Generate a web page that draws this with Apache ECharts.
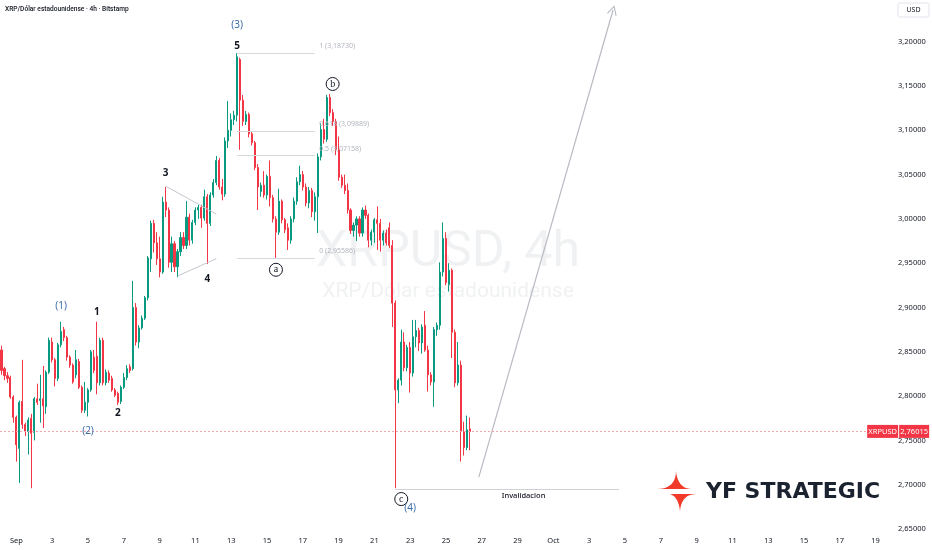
<!DOCTYPE html>
<html><head><meta charset="utf-8">
<script src="https://cdn.jsdelivr.net/npm/echarts@6/dist/echarts.min.js"></script>
<style>html,body{margin:0;padding:0;background:#fff}#c{width:932px;height:550px}</style>
</head><body><div id="c"></div>
<script>
// ---- data (4h candles, XRP/USD, Bitstamp) ----
const opens = [2.852,2.831,2.823,2.821,2.799,2.776,2.741,2.794,2.768,2.760,2.775,2.759,2.797,2.795,2.797,2.788,2.827,2.861,2.841,2.820,2.858,2.875,2.866,2.844,2.835,2.824,2.839,2.810,2.784,2.793,2.807,2.844,2.845,2.815,2.863,2.815,2.826,2.820,2.807,2.803,2.794,2.810,2.821,2.833,2.831,2.900,2.861,2.877,2.888,2.911,
2.955,2.995,2.973,2.955,2.940,3.019,3.010,2.951,2.972,2.946,2.963,2.979,2.970,3.002,2.976,2.996,3.010,3.013,3.001,3.025,2.995,3.027,3.041,3.066,3.036,3.028,3.088,3.100,3.112,3.117,
3.180,3.134,3.110,3.118,3.096,3.086,3.058,3.031,3.038,3.027,3.048,3.024,3.000,2.985,3.020,2.999,2.990,2.976,3.000,3.020,3.042,3.050,3.036,3.018,3.032,3.008,3.025,3.070,3.101,3.090,
3.137,3.120,3.110,3.078,3.047,3.038,3.032,3.010,2.987,2.993,3.000,2.984,3.010,3.004,2.976,2.985,2.999,2.995,2.976,2.984,2.990,2.970,2.905,2.807,2.818,2.861,2.832,2.855,2.826,2.867,
2.874,2.860,2.880,2.852,2.824,2.816,2.875,2.880,2.940,2.978,2.926,2.942,2.872,2.815,2.835,2.760,2.742,2.763];
const closes = [2.829,2.823,2.820,2.799,2.776,2.745,2.793,2.768,2.760,2.773,2.758,2.797,2.793,2.797,2.789,2.827,2.863,2.841,2.820,2.858,2.873,2.866,2.844,2.835,2.816,2.841,2.810,2.784,2.793,2.807,2.850,2.829,2.815,2.863,2.815,2.827,2.818,2.807,2.801,2.793,2.810,2.821,2.831,2.829,2.900,2.861,2.877,2.888,2.911,2.956,
2.995,2.973,2.955,2.940,3.019,3.010,2.951,2.972,2.946,2.963,2.979,2.970,3.002,2.976,2.996,3.010,3.013,3.001,3.025,2.995,3.027,3.041,3.066,3.036,3.028,3.088,3.100,3.112,3.117,3.183,
3.134,3.110,3.118,3.096,3.086,3.058,3.036,3.038,3.027,3.048,3.024,3.000,2.985,3.020,2.999,2.988,2.976,3.000,3.020,3.042,3.050,3.036,3.018,3.032,3.008,3.025,3.070,3.101,3.090,3.137,
3.120,3.110,3.078,3.047,3.038,3.032,3.010,2.987,2.993,3.000,2.984,3.010,3.004,2.976,2.985,2.999,2.995,2.976,2.984,2.973,2.970,2.905,2.807,2.818,2.861,2.832,2.855,2.826,2.867,2.874,
2.860,2.878,2.852,2.824,2.816,2.875,2.880,2.940,2.978,2.928,2.942,2.872,2.815,2.835,2.760,2.742,2.762,2.76015];
const lows = [2.824,2.818,2.815,2.797,2.770,2.726,2.702,2.763,2.755,2.734,2.696,2.750,2.790,2.770,2.764,2.780,2.825,2.838,2.811,2.817,2.855,2.862,2.840,2.832,2.814,2.820,2.808,2.781,2.781,2.777,2.805,2.826,2.802,2.812,2.812,2.812,2.815,2.805,2.799,2.790,2.791,2.808,2.818,2.826,2.829,2.857,2.854,2.875,2.886,2.908,
2.940,2.962,2.948,2.934,2.938,3.002,2.945,2.940,2.940,2.934,2.958,2.966,2.966,2.970,2.972,2.993,3.000,2.990,2.998,2.949,2.992,3.024,3.038,3.033,3.021,3.025,3.080,3.093,3.106,3.110,
3.078,3.105,3.106,3.092,3.083,3.055,3.010,3.025,3.024,3.022,3.014,2.996,2.956,2.982,2.995,2.984,2.965,2.972,2.996,3.016,3.038,3.032,3.014,3.012,3.002,2.998,2.984,3.066,3.085,3.087,
3.116,3.105,3.072,3.043,3.035,3.028,3.006,2.983,2.980,2.975,2.980,2.980,3.000,2.968,2.970,2.973,2.965,2.963,2.970,2.970,2.967,2.878,2.696,2.792,2.812,2.828,2.828,2.804,2.822,2.855,
2.851,2.848,2.850,2.805,2.812,2.788,2.868,2.875,2.935,2.925,2.918,2.843,2.810,2.812,2.726,2.733,2.739,2.739];
const highs = [2.857,2.833,2.827,2.823,2.801,2.778,2.795,2.841,2.770,2.776,2.780,2.799,2.814,2.824,2.834,2.829,2.866,2.866,2.843,2.860,2.884,2.878,2.868,2.846,2.837,2.852,2.842,2.812,2.816,2.809,2.852,2.852,2.884,2.866,2.866,2.830,2.829,2.823,2.809,2.805,2.812,2.826,2.835,2.836,2.930,2.905,2.880,2.891,2.913,2.958,
2.998,2.999,2.985,2.980,3.025,3.036,3.013,2.980,2.975,2.966,2.985,2.985,3.020,3.006,2.999,3.013,3.016,3.016,3.033,3.028,3.030,3.045,3.071,3.069,3.045,3.092,3.133,3.119,3.122,3.187,
3.182,3.140,3.122,3.120,3.099,3.088,3.062,3.041,3.054,3.050,3.066,3.027,3.003,3.034,3.022,3.001,2.995,3.003,3.024,3.047,3.060,3.054,3.040,3.036,3.035,3.030,3.074,3.108,3.113,3.140,
3.141,3.124,3.113,3.093,3.050,3.050,3.040,3.012,2.996,3.003,3.003,3.013,3.015,3.006,2.988,3.001,3.014,3.000,2.987,2.988,2.996,2.976,2.908,2.820,2.875,2.872,2.858,2.861,2.886,2.886,
2.877,2.881,2.896,2.857,2.827,2.878,2.883,2.951,2.996,2.985,2.950,2.944,2.875,2.861,2.840,2.771,2.778,2.776];
const yTicks = [2.65, 3.20, 0.05];               // min label, max label, step
const fibLevels = [1, 0.618, 0.5, 0];
const fibPrices = [3.18730, 3.09889, 3.07158, 2.95586];
const waveText  = ['(3)', '5', '3', '4', '(1)', '1', '2', '(2)', '(4)'];
const waveIdx   = [79, 79, 55, 69, 20, 32, 39, 29, 137];
const wavePrice = [3.2189, 3.1952, 3.0518, 2.9322, 2.9017, 2.8949, 2.7809, 2.7605, 2.6736];
const waveBlue  = [true, false, false, false, true, false, false, true, true];
const circText  = ['a', 'b', 'c'];
const circIdx   = [92, 111, 134];
const circPrice = [2.9426, 3.1523, 2.6838];
const invalidPrice = 2.6951;
const arrowFrom = [160, 2.7086], arrowTo = [205, 3.2358];
const triUpper = [[55, 3.037], [72, 3.0055]];
const triLower = [[59, 2.9355], [72, 2.9551]];

// time categories (4h)
const categories = [];
const t0 = Date.UTC(2025, 7, 31, 4);
for (let k = 0; k < 300; k++) categories.push(new Date(t0 + k * 4 * 3600e3).toISOString().slice(0, 16));
const months = ['Jan','Feb','Mar','Apr','May','Jun','Jul','Aug','Sep','Oct','Nov','Dec'];
function dt(v) { return new Date(v + ':00Z'); }

const candles = opens.map((o, i) => [o, closes[i], lows[i], highs[i]]);
const last = closes[closes.length - 1];
const fmt = v => v.toFixed(5).replace('.', ',');
const C = i => categories[i];
const UP = '#089981', DOWN = '#F23645', BLUE = '#3d6ea8', INK = '#131722';
const FONT = 'Noto Sans';

const markPts = [];
waveText.forEach((t, k) => markPts.push({
  coord: [C(waveIdx[k]), wavePrice[k]], symbol: 'circle', symbolSize: 1,
  itemStyle: { color: 'rgba(0,0,0,0)' },
  label: { show: true, position: 'inside', formatter: t, fontFamily: FONT,
    fontSize: 10, color: waveBlue[k] ? BLUE : INK, fontWeight: waveBlue[k] ? 'normal' : 'bold' }
}));
circText.forEach((t, k) => markPts.push({
  coord: [C(circIdx[k]), circPrice[k]], symbol: 'circle', symbolSize: 13,
  itemStyle: { color: '#fff', borderColor: INK, borderWidth: 1 },
  label: { show: true, position: 'inside', formatter: t, fontFamily: 'Liberation Serif', fontSize: 10, color: INK }
}));
fibLevels.forEach((l, k) => markPts.push({
  coord: [C(105), fibPrices[k]], symbol: 'circle', symbolSize: 1,
  itemStyle: { color: 'rgba(0,0,0,0)' },
  label: { show: true, position: 'right', distance: 4, offset: [0, -7],
    formatter: l + ' (' + fmt(fibPrices[k]) + ')', fontFamily: FONT, fontSize: 7, color: '#b2b5be' }
}));
markPts.push({
  coord: [C(175), 2.6872], symbol: 'circle', symbolSize: 1, itemStyle: { color: 'rgba(0,0,0,0)' },
  label: { show: true, position: 'inside', formatter: 'Invalidacion', fontFamily: FONT, fontSize: 7.5, fontWeight: 500, color: INK }
});
markPts.push({
  coord: [C(290), last], symbol: 'circle', symbolSize: 1, itemStyle: { color: 'rgba(0,0,0,0)' },
  label: { show: true, position: 'right', distance: 0,
    formatter: '{a|XRPUSD}{g|}{b|' + fmt(last) + '}',
    rich: {
      a: { backgroundColor: DOWN, color: '#fff', fontSize: 7.5, fontFamily: FONT, width: 25, align: 'center', padding: [2.5, 3] },
      g: { width: 1 },
      b: { backgroundColor: DOWN, color: '#fff', fontSize: 7.5, fontFamily: FONT, width: 24, align: 'center', padding: [2.5, 3] }
    } }
});

const grey = { color: '#c4c7ce', width: 1, type: 'solid' };
const markLines = [];
fibPrices.forEach(p => markLines.push([{ coord: [C(79), p], lineStyle: { color: '#d6d8de', width: 1, type: 'solid' } }, { coord: [C(105), p] }]));
markLines.push([{ coord: [C(triUpper[0][0]), triUpper[0][1]], lineStyle: grey }, { coord: [C(triUpper[1][0]), triUpper[1][1]] }]);
markLines.push([{ coord: [C(triLower[0][0]), triLower[0][1]], lineStyle: grey }, { coord: [C(triLower[1][0]), triLower[1][1]] }]);
markLines.push([{ coord: [C(132), invalidPrice], lineStyle: { color: '#cfd1d6', width: 1.2, type: 'solid' } }, { coord: [C(207), invalidPrice] }]);
markLines.push([{ coord: [C(arrowFrom[0]), arrowFrom[1]], lineStyle: { color: '#b8bbc2', width: 1.2, type: 'solid' } },
  { coord: [C(arrowTo[0]), arrowTo[1]], symbol: 'path://M0 10 L5 0 L10 10 L9 10.6 L5 2.4 L1 10.6 Z', symbolSize: [10, 10] }]);
markLines.push({ yAxis: last, lineStyle: { color: '#f6a5ab', width: 1, type: [2, 2] } });

// logo star (sampled cubic curves -> polygons)
function cubic(p0, p1, p2, p3, n) {
  const out = [];
  for (let k = 0; k <= n; k++) {
    const t = k / n, u = 1 - t;
    out.push([u*u*u*p0[0] + 3*u*u*t*p1[0] + 3*u*t*t*p2[0] + t*t*t*p3[0],
              u*u*u*p0[1] + 3*u*u*t*p1[1] + 3*u*t*t*p2[1] + t*t*t*p3[1]]);
  }
  return out;
}
const starA = cubic([657,489],[670,489],[676,482],[676,471],10).concat(cubic([676,471],[677,482],[682,489],[692,489],10));
const starB = cubic([697,494],[686,494],[681,500],[680,511],10).concat(cubic([680,511],[679,502],[676,496],[670,494],10));

const chart = echarts.init(document.getElementById('c'), null, { renderer: 'canvas' });
chart.setOption({
  animation: false,
  backgroundColor: '#fff',
  grid: { left: 0, right: 37, top: 0, bottom: 21 },
  xAxis: {
    type: 'category', data: categories, boundaryGap: true,
    axisLine: { show: false }, axisTick: { show: false }, splitLine: { show: false },
    axisLabel: {
      interval: (i, v) => { const d = dt(v); return d.getUTCHours() === 0 && d.getUTCDate() % 2 === 1; },
      formatter: v => { const d = dt(v); return d.getUTCDate() === 1 ? months[d.getUTCMonth()] : String(d.getUTCDate()); },
      fontSize: 7.5, color: INK, fontFamily: FONT, margin: 8
    }
  },
  yAxis: {
    type: 'value', position: 'right', min: yTicks[0], max: 3.2471, interval: yTicks[2],
    axisLine: { show: false }, axisTick: { show: false }, splitLine: { show: false },
    axisLabel: { showMaxLabel: false, formatter: v => (v > yTicks[1] + 1e-9 ? '' : fmt(v)),
      fontSize: 7.5, color: INK, fontFamily: FONT, margin: 3 }
  },
  graphic: [
    { type: 'text', x: 5, y: 6, z: 10, style: { text: 'XRP/Dólar estadounidense · 4h · Bitstamp', font: '500 6.6px Roboto', fill: INK } },
    { type: 'rect', x: 898, y: 3, z: 10, shape: { x: 0, y: 0, width: 31, height: 14, r: 2 }, style: { fill: '#fff', stroke: '#e0e3eb', lineWidth: 1 } },
    { type: 'text', x: 913.5, y: 10, z: 11, style: { text: 'USD', font: '7px "Noto Sans"', fill: INK, align: 'center', verticalAlign: 'middle' } },
    { type: 'text', x: 448, y: 253, z: -1, style: { text: 'XRPUSD, 4h', font: '50px Roboto', fill: 'rgba(120,123,134,0.11)', align: 'center', verticalAlign: 'middle' } },
    { type: 'text', x: 448, y: 292, z: -1, style: { text: 'XRP/Dólar estadounidense', font: '21px Roboto', fill: 'rgba(120,123,134,0.11)', align: 'center', verticalAlign: 'middle' } },
    { type: 'polygon', z: 10, shape: { points: starA }, style: { fill: '#f23a2a' } },
    { type: 'polygon', z: 10, shape: { points: starB }, style: { fill: '#f23a2a' } },
    { type: 'text', x: 706, y: 492, z: 10, style: { text: 'YF STRATEGIC', font: 'bold 22px "DejaVu Sans"', fill: '#1b2330', verticalAlign: 'middle' } }
  ],
  series: [{
    type: 'candlestick', data: candles, barWidth: 1.6,
    itemStyle: { color: UP, color0: DOWN, borderColor: UP, borderColor0: DOWN, borderWidth: 1 },
    markLine: { silent: true, symbol: ['none', 'none'], label: { show: false }, data: markLines, animation: false },
    markPoint: { silent: true, data: markPts, animation: false }
  }]
});
</script></body></html>
